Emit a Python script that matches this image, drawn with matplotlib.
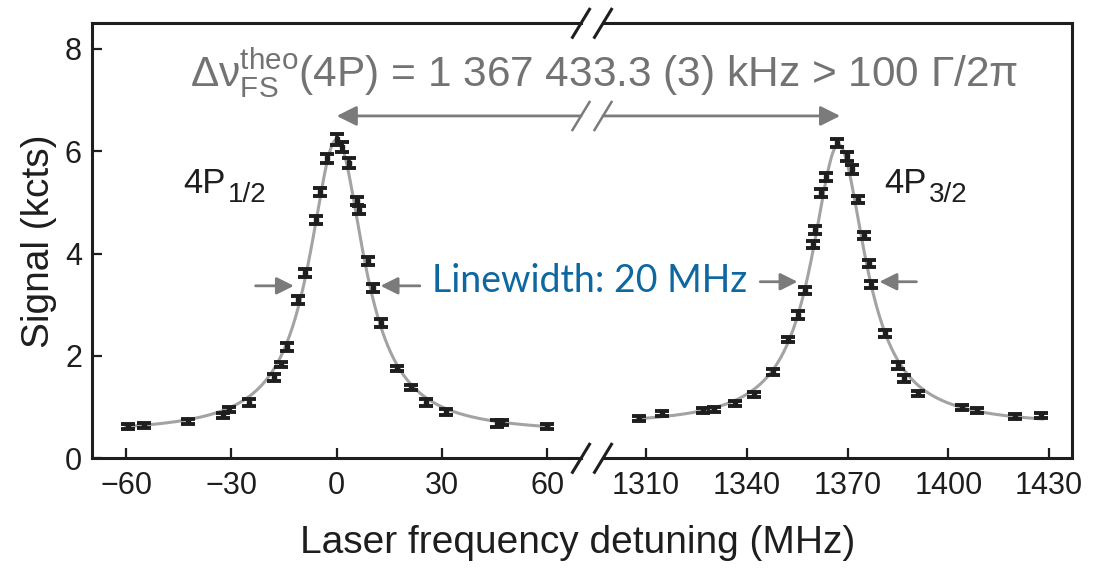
import numpy as np
import matplotlib
matplotlib.use('Agg')
import matplotlib.pyplot as plt
from matplotlib.lines import Line2D

plt.rcParams['font.family'] = ['Liberation Sans', 'DejaVu Sans']
plt.rcParams['mathtext.fontset'] = 'custom'
plt.rcParams['mathtext.rm'] = 'Liberation Sans'
plt.rcParams['mathtext.it'] = 'Liberation Sans:italic'
plt.rcParams['mathtext.bf'] = 'Liberation Sans:bold'

# 4P1/2 peak, data points (MHz, kcts)
x_12 = [-59.6, -54.9, -42.4, -32.3, -30.7, -24.9, -18.0, -16.0, -14.2, -10.9,
        -9.1, -6.0, -4.9, -2.85, 0.0, 1.4, 3.4, 5.7, 6.3, 8.9,
        10.4, 12.5, 17.3, 21.1, 25.4, 31.1, 45.8, 47.2, 60.0]
y_12 = [0.62, 0.645, 0.72, 0.84, 0.96, 1.09, 1.58, 1.84, 2.18, 3.09,
        3.62, 4.66, 5.20, 5.86, 6.23, 6.09, 5.77, 5.02, 4.85, 3.86,
        3.32, 2.65, 1.75, 1.39, 1.09, 0.90, 0.68, 0.70, 0.62]
e_12 = [0.05, 0.05, 0.04, 0.05, 0.05, 0.06, 0.07, 0.05, 0.08, 0.08,
        0.07, 0.08, 0.08, 0.09, 0.10, 0.10, 0.09, 0.08, 0.08, 0.08,
        0.08, 0.08, 0.05, 0.05, 0.06, 0.06, 0.06, 0.05, 0.05]

# 4P3/2 peak
x_32 = [1307.9, 1314.7, 1326.9, 1330.1, 1336.6, 1342.2, 1347.8, 1352.4, 1355.3, 1357.2,
        1359.7, 1360.4, 1362.2, 1363.5, 1366.8, 1369.8, 1371.2, 1373.0, 1374.8, 1376.4,
        1377.1, 1381.0, 1385.0, 1386.9, 1391.1, 1404.1, 1408.5, 1419.7, 1427.6]
y_32 = [0.77, 0.87, 0.93, 0.96, 1.07, 1.24, 1.68, 2.33, 2.80, 3.28,
        4.17, 4.46, 5.19, 5.50, 6.16, 5.90, 5.65, 5.05, 4.35, 3.81,
        3.39, 2.44, 1.82, 1.56, 1.27, 1.00, 0.94, 0.81, 0.84]
e_32 = [0.05, 0.05, 0.05, 0.05, 0.05, 0.05, 0.06, 0.05, 0.07, 0.07,
        0.07, 0.08, 0.08, 0.08, 0.08, 0.09, 0.09, 0.07, 0.07, 0.07,
        0.07, 0.06, 0.07, 0.07, 0.05, 0.05, 0.05, 0.05, 0.05]

# lorentzian fit parameters: center, amplitude, fwhm, background
fit_12 = (0.0, 5.75, 19.0, 0.48)
fit_32 = (1367.3, 5.5, 19.5, 0.63)

def lorentz(x, c, a, w, b) :
	return a/(1 + (2*(x-c)/w)**2) + b

grey_txt = '#737373'
grey_arr = '#7b7b7b'
ink = '#1e1e1e'
W, H = 1105, 571

fig = plt.figure(figsize=(W/100, H/100), dpi=100)
axL = fig.add_axes([91.7/W, 1-458.3/H, (581-91.7)/W, 435/H])
axR = fig.add_axes([603/W, 1-458.3/H, (1072.3-603)/W, 435/H])

for ax, xs, ys, es, fit, lim in [(axL, x_12, y_12, e_12, fit_12, (-69.8, 69.6)),
                                  (axR, x_32, y_32, e_32, fit_32, (1297.2, 1436.9))] :
	xx = np.linspace(xs[0]-0.5, xs[-1]+0.5, 400)
	ax.plot(xx, lorentz(xx, *fit), color='#a3a3a3', lw=2.2, zorder=1)
	ax.errorbar(xs, ys, yerr=es, fmt='s', ms=3.5, color=ink, ecolor=ink,
	            elinewidth=2.6, capsize=4.8, capthick=2.8, zorder=2)
	ax.set_xlim(*lim)
	ax.set_ylim(0, 8.5)
	for s in ax.spines.values() :
		s.set_linewidth(2.2)
		s.set_color(ink)
	ax.tick_params(direction='in', length=7, width=1.6, labelsize=22, pad=9, colors=ink)

axL.spines['right'].set_visible(False)
axR.spines['left'].set_visible(False)
axL.set_xticks([-60, -30, 0, 30, 60])
axR.set_xticks([1310, 1340, 1370, 1400, 1430])
axL.set_yticks([0, 2, 4, 6, 8])
axL.tick_params(axis='y', pad=7)
axR.set_yticks([])
axL.set_ylabel('Signal (kcts)', fontsize=28, labelpad=6, color=ink)
fig.text(578/W, 1-543/H, 'Laser frequency detuning (MHz)', fontsize=28,
         ha='center', va='center', color=ink)

# break marks
def slash(xp, yp, color, lw) :
	dx, dy = 8.5, 14
	fig.add_artist(Line2D([(xp-dx)/W, (xp+dx)/W], [1-(yp+dy)/H, 1-(yp-dy)/H],
	                      color=color, lw=lw, transform=fig.transFigure))

for xp in [581, 603] :
	slash(xp, 23.3, ink, 2.2)
	slash(xp, 458.3, ink, 2.2)
	slash(xp, 116, grey_arr, 1.8)

# fine structure arrow
y_arr = 6.69
axL.annotate('', xy=(0, y_arr), xytext=(69.6, y_arr), annotation_clip=False,
             arrowprops=dict(arrowstyle='-|>', color=grey_arr, lw=2, mutation_scale=30, shrinkA=0, shrinkB=0))
axR.annotate('', xy=(1367.8, y_arr), xytext=(1297.2, y_arr), annotation_clip=False,
             arrowprops=dict(arrowstyle='-|>', color=grey_arr, lw=2, mutation_scale=30, shrinkA=0, shrinkB=0))

# linewidth arrows
lw_arrows = [(axL, -23.1, -12.2, 3.37), (axL, 23.7, 12.5, 3.37),
             (axR, 1344.0, 1355.1, 3.45), (axR, 1390.5, 1379.5, 3.45)]
for ax, x0, x1, yy in lw_arrows :
	ax.annotate('', xy=(x1, yy), xytext=(x0, yy),
	            arrowprops=dict(arrowstyle='-|>', color=grey_arr, lw=2, mutation_scale=26, shrinkA=0, shrinkB=0))

fig.text(190/W, 1-86/H, r'$\Delta\mathrm{\nu}_{\mathrm{FS}}^{\mathrm{theo}}$(4P) = 1 367 433.3 (3) kHz > 100 $\Gamma/2\mathrm{\pi}$',
         fontsize=30.5, color=grey_txt, ha='left', va='baseline')

# level labels, subscript drawn as own text so it keeps the large size of the original
for x0, sub in [(183, '1/2'), (884, '3/2')] :
	fig.text(x0/W, 1-192.7/H, '4P', fontsize=25, color=ink, ha='left', va='baseline')
	fig.text((x0+45)/W, 1-201.5/H, sub, fontsize=20, color=ink, ha='left', va='baseline')

fig.text(431.7/W, 1-292/H, 'Linewidth: 20 MHz', fontsize=27, family=['Lato', 'DejaVu Sans'],
         color='#0d67a0', ha='left', va='baseline')

fig.savefig('out.png', dpi=100)
